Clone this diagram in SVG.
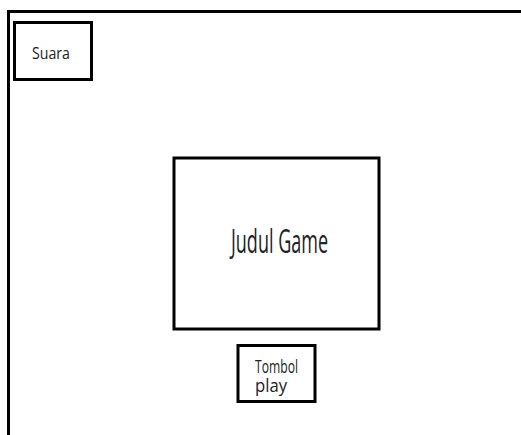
<svg xmlns="http://www.w3.org/2000/svg" width="521" height="435" viewBox="0 0 521 435">
<style>
.box{fill:#fff;stroke:#000;stroke-width:3}
.t{font-family:"Open Sans","Liberation Sans",sans-serif;fill:#222}
</style>
<rect x="0" y="0" width="521" height="435" fill="#fff"/>
<g id="frame">
<path d="M8.5 435 V11.5 H521" fill="none" stroke="#000" stroke-width="3"/>
</g>
<g id="suara">
<rect class="box" x="14.5" y="22.5" width="77" height="57"/>
<text class="t" x="32" y="59" font-size="16.5" textLength="38" lengthAdjust="spacingAndGlyphs">Suara</text>
</g>
<g id="judul">
<rect class="box" x="174" y="158" width="205" height="171"/>
<text class="t" x="231" y="253" font-size="32" textLength="97" lengthAdjust="spacingAndGlyphs">Judul Game</text>
</g>
<g id="tombol">
<rect class="box" x="238" y="345.5" width="77" height="56"/>
<text class="t" x="255" y="372.5" font-size="17.5" textLength="43" lengthAdjust="spacingAndGlyphs">Tombol</text>
<text class="t" x="255" y="392" font-size="17.5" textLength="32" lengthAdjust="spacingAndGlyphs">play</text>
</g>
<g id="connectors"/>
</svg>
